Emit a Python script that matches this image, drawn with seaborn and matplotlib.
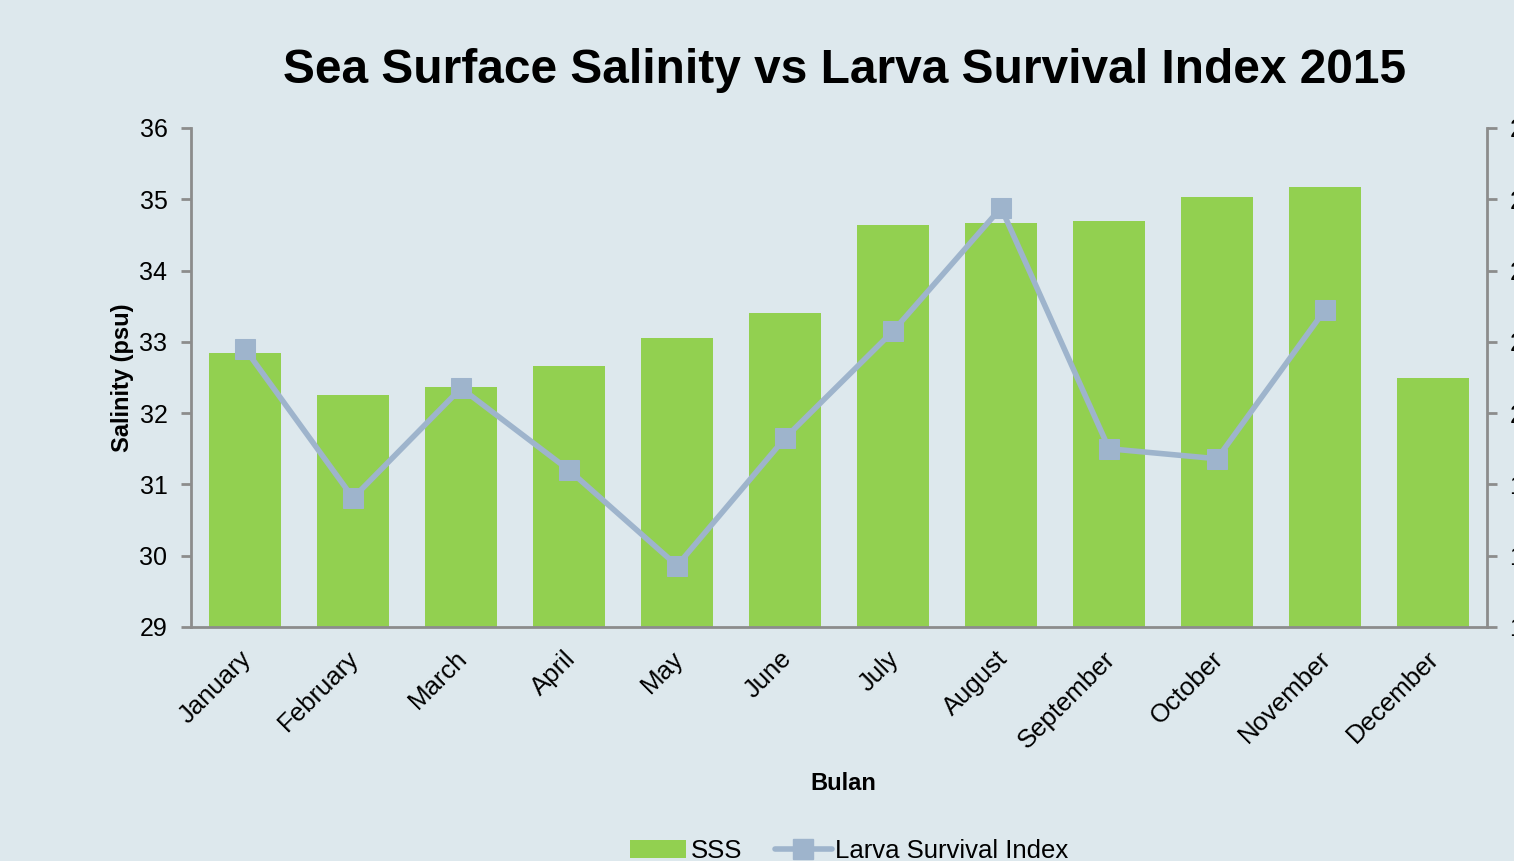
import numpy as np
import pandas as pd
import matplotlib
matplotlib.use("Agg")
import matplotlib.pyplot as plt
from matplotlib.lines import Line2D
from matplotlib.patches import Patch
from matplotlib.transforms import ScaledTranslation
import seaborn as sns

months = ["January", "February", "March", "April", "May", "June",
          "July", "August", "September", "October", "November", "December"]
sss = [32.84, 32.25, 32.37, 32.66, 33.05, 33.40,
       34.64, 34.67, 34.69, 35.03, 35.17, 32.49]
larva_index = [20.90, 18.81, 20.35, 19.20, 17.86, 19.65,
               21.15, 22.88, 19.50, 19.36, 21.45, np.nan]
sal_ticks = [29, 30, 31, 32, 33, 34, 35, 36]
idx_ticks = [17, 18, 19, 20, 21, 22, 23, 24]

BG = "#DDE8ED"
GREEN = "#92D050"
LINE = "#9EB4CC"
SPINE = "#8C8C8C"

sns.set_style("white")
plt.rcParams["font.family"] = ["Liberation Sans", "DejaVu Sans"]
plt.rcParams["text.color"] = "black"
plt.rcParams["axes.labelcolor"] = "black"
plt.rcParams["xtick.labelcolor"] = "black"
plt.rcParams["ytick.labelcolor"] = "black"

df = pd.DataFrame({"month": months, "sss": sss,
                   "pos": np.arange(len(months)), "larva": larva_index})

fig = plt.figure(figsize=(15.14, 8.61), dpi=100, facecolor=BG)
ax = fig.add_axes([0.1262, 0.2718, 0.856, 0.5796])
ax.set_facecolor(BG)

sns.barplot(data=df, x="month", y="sss", color=GREEN, width=0.667,
            saturation=1, linewidth=0, edgecolor="none", ax=ax, zorder=2)
ax.set_ylim(sal_ticks[0], sal_ticks[-1])
ax.set_yticks(sal_ticks)
ax.set_xlim(-0.5, len(months) - 0.5)

# category ticks sit on the boundaries between months
ax.set_xticks(np.arange(len(months)))
ax.set_xticklabels(months, rotation=45, ha="right", rotation_mode="anchor",
                   fontsize=18.5)
ax.tick_params(axis="x", length=0, pad=14)
shift = ScaledTranslation(-0.06, 0, fig.dpi_scale_trans)
for lbl in ax.get_xticklabels():
    lbl.set_transform(lbl.get_transform() + shift)
ax.set_xticks(np.arange(-0.5, len(months)), minor=True)
ax.tick_params(axis="x", which="minor", length=7, width=2, color=SPINE,
               direction="out")
ax.tick_params(axis="y", length=7, width=2, color=SPINE, direction="out",
               labelsize=18, pad=10)

for side in ["left", "bottom"]:
    ax.spines[side].set_color(SPINE)
    ax.spines[side].set_linewidth(2)
ax.spines["top"].set_visible(False)
ax.spines["right"].set_visible(False)

ax.set_xlabel("Bulan", fontsize=17, fontweight="bold")
ax.xaxis.set_label_coords(0.503, -0.29)
ax.set_ylabel("Salinity (psu)", fontsize=17, fontweight="bold", labelpad=4)

ax2 = ax.twinx()
sns.lineplot(data=df, x="pos", y="larva", color=LINE, linewidth=4,
             marker="s", markersize=14, markeredgecolor=LINE,
             markerfacecolor=LINE, ax=ax2, zorder=3)
ax2.set_ylim(idx_ticks[0], idx_ticks[-1])
ax2.set_yticks(idx_ticks)
ax2.set_ylabel("")
ax2.set_xlabel("")
ax2.tick_params(axis="y", length=7, width=2, color=SPINE, direction="out",
                labelsize=18, pad=9)
for side in ["top", "left", "bottom"]:
    ax2.spines[side].set_visible(False)
ax2.spines["right"].set_color(SPINE)
ax2.spines["right"].set_linewidth(2)

fig.text(0.558, 0.918, "Sea Surface Salinity vs Larva Survival Index 2015",
         ha="center", va="center", fontsize=34.5, fontweight="bold")

handles = [Patch(facecolor=GREEN, edgecolor="none", label="SSS"),
           Line2D([0], [0], color=LINE, linewidth=4, marker="s",
                  markersize=14, label="Larva Survival Index")]
fig.legend(handles=handles, loc="center", bbox_to_anchor=(0.561, 0.012),
           ncol=2, frameon=False, fontsize=18.5, handlelength=2.2,
           handletextpad=0.15, columnspacing=1.3)

fig.savefig("out.png", dpi=100, facecolor=BG)
